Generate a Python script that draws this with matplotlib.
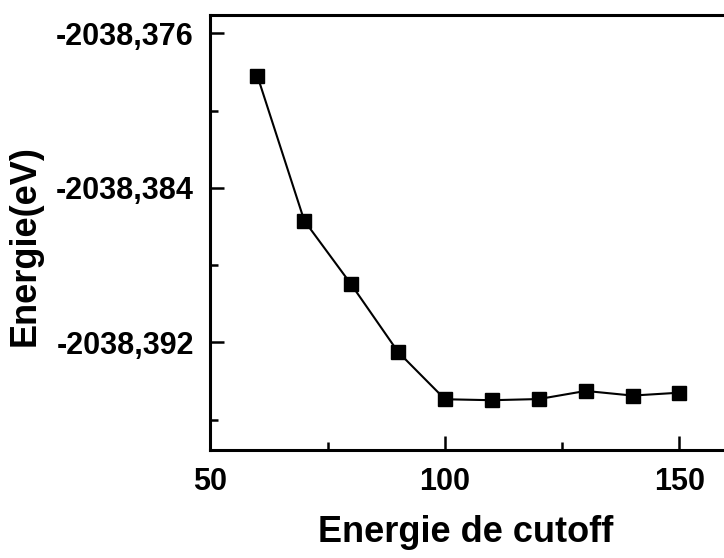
import matplotlib
matplotlib.use('Agg')
import matplotlib.pyplot as plt
from matplotlib.ticker import FuncFormatter

cutoff = [60, 70, 80, 90, 100, 110, 120, 130, 140, 150]
energie = [-2038.3782, -2038.3857, -2038.3890, -2038.3925, -2038.39495,
           -2038.3950, -2038.39494, -2038.39452, -2038.39476, -2038.39461]

x_major = [50, 100, 150]
x_minor = [75, 125]
y_major = [-2038.376, -2038.384, -2038.392]
y_minor = [-2038.380, -2038.388, -2038.396]

plt.rcParams['font.family'] = ['Liberation Sans', 'DejaVu Sans']
plt.rcParams['font.weight'] = 'bold'

fig = plt.figure(figsize=(7.24, 5.58), dpi=100)
ax = fig.add_axes([0.2907, 0.1935, 0.7126, 0.7796])

ax.plot(cutoff, energie, color='black', linewidth=1.5, marker='s',
        markersize=9.5, markerfacecolor='black', markeredgecolor='black')

ax.set_xlim(50, 160)
ax.set_ylim(-2038.39758, -2038.37505)

ax.set_xticks(x_major)
ax.set_xticks(x_minor, minor=True)
ax.set_yticks(y_major)
ax.set_yticks(y_minor, minor=True)
ax.yaxis.set_major_formatter(FuncFormatter(lambda v, p: f'{v:.3f}'.replace('.', ',')))

for s in ['left', 'bottom', 'top']:
    ax.spines[s].set_linewidth(2.2)
ax.spines['right'].set_visible(False)

ax.tick_params(which='major', direction='in', length=10, width=1.8,
               labelsize=22, pad=12)
ax.tick_params(which='minor', direction='in', length=5.5, width=1.8)
ax.tick_params(axis='y', which='both', right=False)
ax.tick_params(axis='x', which='both', top=False)
ax.tick_params(axis='y', pad=12)

ax.set_xlabel('Energie de cutoff', fontsize=26, fontweight='bold')
ax.set_ylabel('Energie(eV)', fontsize=26, fontweight='bold')
ax.xaxis.set_label_coords(0.495, -0.15)
ax.yaxis.set_label_coords(-0.325, 0.471)

fig.savefig('out.png', dpi=100)
